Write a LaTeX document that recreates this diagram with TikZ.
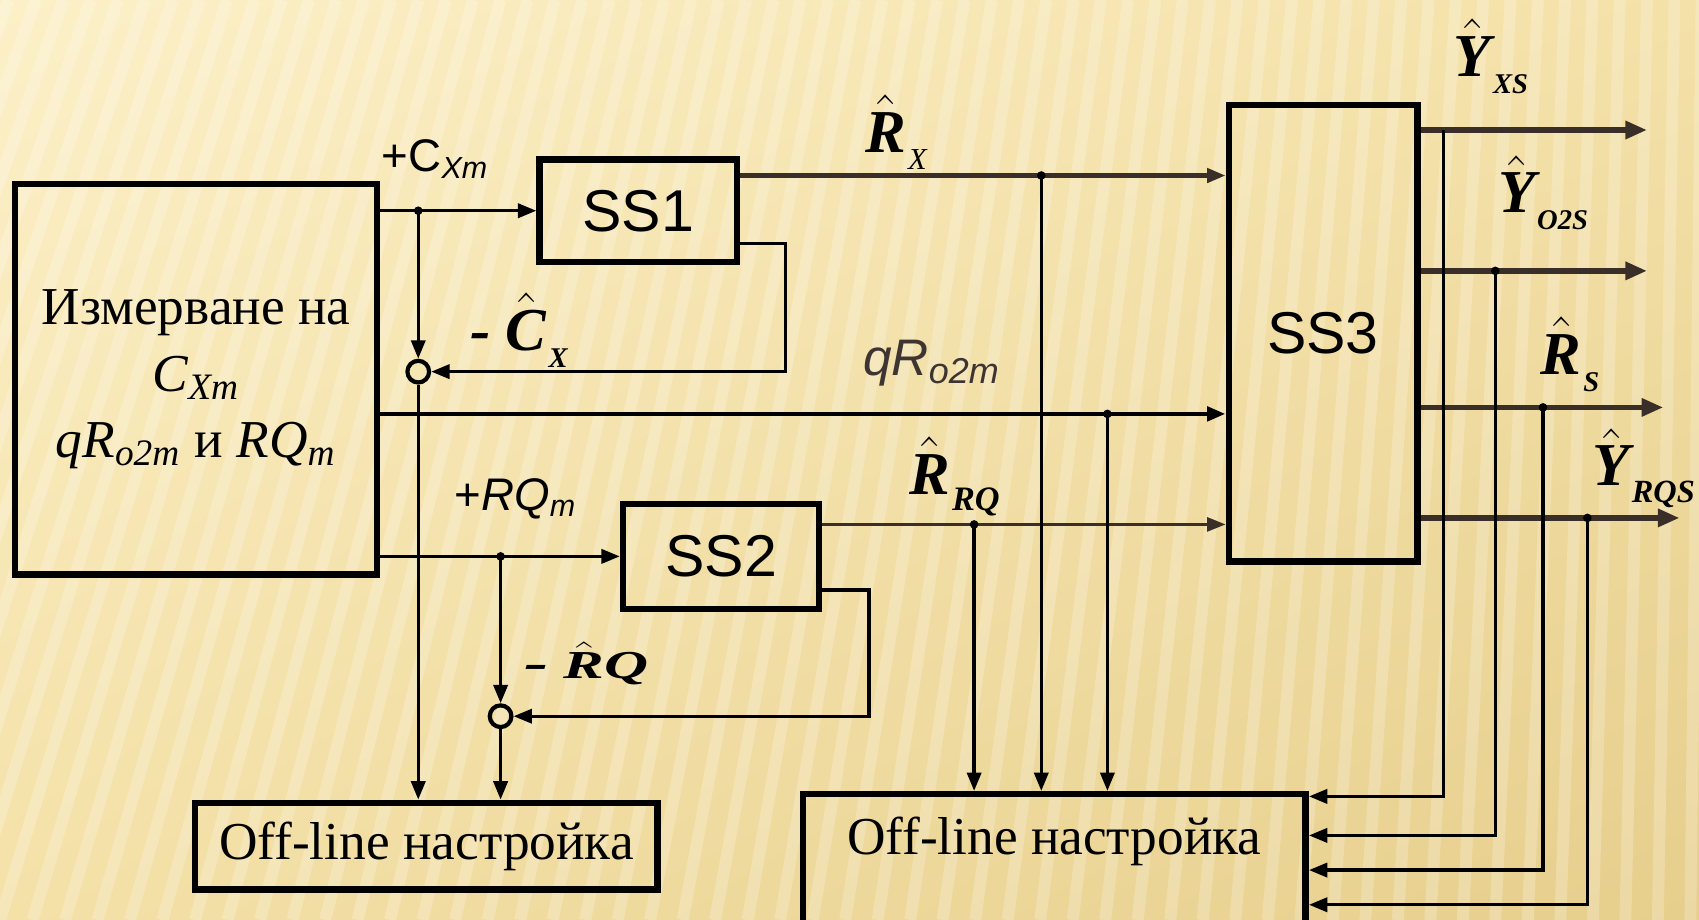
\documentclass[tikz,border=0pt]{standalone}
\usepackage{amsmath}
\usepackage{fontspec}
\setmainfont{Liberation Serif}
\newfontfamily\arialfont{Liberation Sans}
\usepackage{tikz}
\usetikzlibrary{
    arrows.meta,
    calc,
    positioning,
    shadings
}

\definecolor{bglight}{RGB}{252,240,200}
\definecolor{bgmid}{RGB}{244,225,168}
\definecolor{bgdark}{RGB}{230,206,140}
\definecolor{wire}{RGB}{58,46,40}
\definecolor{labgray}{RGB}{62,52,50}

% hatted estimate with a small subscript
\newcommand{\hatsig}[3][7.5]{$\hat{\text{\bfseries\itshape #2}}$\kern0.5pt\raisebox{-0.6ex}{\fontsize{#1}{#1}\selectfont\bfseries\itshape #3}}

\tikzset{
    blk/.style={draw, line width=1.7pt, inner sep=0pt},
    ssbox/.style={blk, font=\arialfont\fontsize{15.5}{18}\selectfont},
    offtxt/.style={font=\fontsize{14}{17}\selectfont},
    sig/.style={line width=0.9pt, -{Triangle[length=0.17cm,width=0.13cm]}},
    bsig/.style={sig, draw=wire, line width=1.1pt},
    outsig/.style={draw=wire, line width=1.4pt, -{Triangle[length=0.2cm,width=0.16cm]}},
    sumpt/.style={circle, draw, line width=1.1pt, inner sep=0pt, minimum size=0.2cm},
    hatlab/.style={font=\fontsize{16}{18}\selectfont},
    sflab/.style={font=\arialfont\fontsize{12}{14}\selectfont},
    stripe/.style={white, opacity=0.22, line width=0.11cm}
}

\begin{document}
\begin{tikzpicture}

% Background
\useasboundingbox (0,0) rectangle (15.68,8.49);
\begin{scope}
\clip (0,0) rectangle (15.68,8.49);
\shade[upper left=bglight, upper right=bgmid, lower left=bgmid, lower right=bgdark] (0,0) rectangle (15.68,8.49);
\foreach \x in {-3,-2.7,...,16.2}
    \draw[stripe] (\x,0) -- ({\x+2.6-0.16*\x},8.49);
\end{scope}

% Blocks
\node[blk, minimum width=3.34cm, minimum height=3.60cm, align=center,
      font=\fontsize{14}{17.5}\selectfont] (meas) at (1.81,4.99)
      {Измерване на\\ \textit{C}\textsubscript{\textit{Xm}}\\
       \textit{qR}\textsubscript{\textit{o2m}} и \textit{RQ}\textsubscript{\textit{m}}};
\node[ssbox, minimum width=1.82cm, minimum height=0.95cm] (ss1) at (5.89,6.545) {SS1};
\node[ssbox, minimum width=1.81cm, minimum height=0.97cm] (ss2) at (6.655,3.355) {SS2};
\node[ssbox, minimum width=1.74cm, minimum height=4.21cm] (ss3) at (12.21,5.415) {SS3};
\node[blk, offtxt, minimum width=4.27cm, minimum height=0.80cm] (offL) at (3.935,0.68) {Off-line настройка};
\node[blk, minimum width=4.64cm, minimum height=1.49cm, anchor=north west] (offR) at (7.38,1.19) {};
\node[offtxt, below=0.12cm of offR.north] (offRtxt) {Off-line настройка};

% Summing points
\node[sumpt] (sum1) at (3.86,5.06) {};
\node[sumpt] (sum2) at (4.62,1.88) {};

% Points
\coordinate (j1) at (sum1 |- ss1.west);
\coordinate (j2) at (sum2 |- ss2.west);
\coordinate (q0) at ($(meas.east)+(0,-0.32)$);
\coordinate (rx0) at ($(ss1.east)+(0,0.325)$);
\coordinate (rq0) at ($(ss2.east)+(0,0.295)$);
\coordinate (jrx) at (9.61,0 |- rx0);
\coordinate (jq) at (10.22,0 |- q0);
\coordinate (jrq) at (8.99,0 |- rq0);
\coordinate (ya) at (13.32,7.29);
\coordinate (yb) at (13.80,5.99);
\coordinate (yc) at (14.24,4.73);
\coordinate (yd) at (14.65,3.71);

% Left part: inputs and feedback loops
\draw[sig] (meas.east |- ss1.west) -- (ss1.west);
\draw[sig] (j1) -- (sum1.north);
\draw[sig] (sum1.south) -- (sum1 |- offL.north);
\draw[sig] ($(ss1.east)+(0,-0.3)$) -- ++(0.42,0) |- (sum1.east);
\draw[sig] (meas.east |- ss2.west) -- (ss2.west);
\draw[sig] (j2) -- (sum2.north);
\draw[sig] (sum2.south) -- (sum2 |- offL.north);
\draw[sig] ($(ss2.east)+(0,-0.31)$) -- ++(0.43,0) |- (sum2.east);

% Signals to SS3
\draw[bsig] (rx0) -- (ss3.west |- rx0);
\draw[sig, line width=1.2pt] (q0) -- (ss3.west |- q0);
\draw[sig, draw=wire, line width=0.6pt] (rq0) -- (ss3.west |- rq0);
\draw[sig] (jrx) -- (jrx |- offR.north);
\draw[sig] (jq) -- (jq |- offR.north);
\draw[sig] (jrq) -- (jrq |- offR.north);

% Outputs of SS3
\draw[outsig] (ss3.east |- ya) -- (15.20,7.29);
\draw[outsig] (ss3.east |- yb) -- (15.20,5.99);
\draw[outsig] (ss3.east |- yc) -- (15.35,4.73);
\draw[outsig] (ss3.east |- yd) -- (15.50,3.71);
\draw[sig] (ya) |- (offR.east |- 0,1.14);
\draw[sig] (yb) |- (offR.east |- 0,0.78);
\draw[sig] (yc) |- (offR.east |- 0,0.46);
\draw[sig] (yd) |- (offR.east |- 0,0.14);

% Junction dots
\foreach \p in {j1,j2,jrx,jq,jrq,yb,yc,yd}
    \fill (\p) circle (0.04);

% Labels
\node[sflab] at (4.02,7.02) {+C\textsubscript{\itshape Xm}};
\node[sflab] at (4.76,3.89) {+\textit{RQ}\textsubscript{\itshape m}};
\node[sflab, font=\arialfont\fontsize{13.5}{15}\selectfont\itshape, text=labgray] at (8.60,5.14) {qR\textsubscript{o2m}};
\node[hatlab] at (4.79,5.44) {{\bfseries\itshape -} \hatsig{C}{X}};
\node[hatlab] at (5.41,2.37) {\scalebox{1}[0.65]{{\fontsize{19}{19}\selectfont\bfseries\itshape -} $\hat{\text{\bfseries\itshape R}}$\textbf{\textit{Q}}}};
\node[hatlab] at (8.27,7.27) {\hatsig[8]{R}{\mdseries X}};
\node[hatlab] at (8.81,4.09) {\hatsig[9]{R}{RQ}};
\node[hatlab] at (13.76,7.97) {\hatsig{Y}{XS}};
\node[hatlab] at (14.24,6.71) {\hatsig{Y}{O2S}};
\node[hatlab] at (14.49,5.22) {\hatsig{R}{S}};
\node[hatlab] at (15.17,4.17) {\hatsig[8.5]{Y}{RQS}};

\end{tikzpicture}
\end{document}
